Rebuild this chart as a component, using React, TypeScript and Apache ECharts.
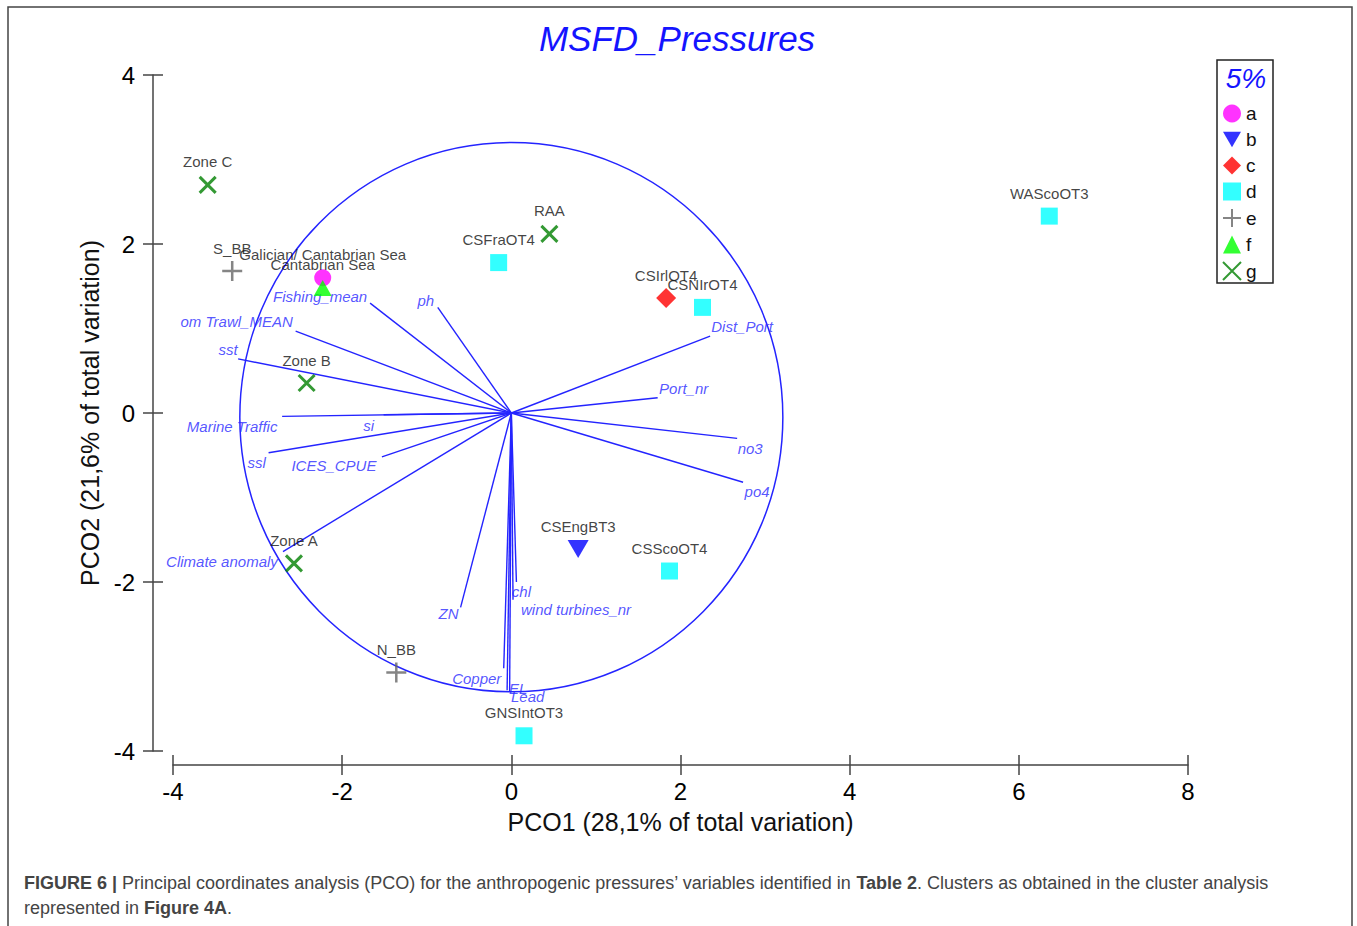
import { useEffect, useRef } from "react";
import * as echarts from "echarts";

// ---------- DATA ----------
const groupNames = ["a", "b", "c", "d", "e", "f", "g"];

// samples: [label, PCO1, PCO2]
const samplesA: [string, number, number][] = [["Galician/ Cantabrian Sea", -2.23, 1.6]];
const samplesB: [string, number, number][] = [["CSEngBT3", 0.79, -1.61]];
const samplesC: [string, number, number][] = [["CSIrlOT4", 1.83, 1.36]];
const samplesD: [string, number, number][] = [
  ["CSFraOT4", -0.15, 1.78],
  ["CSNIrOT4", 2.26, 1.25],
  ["CSScoOT4", 1.87, -1.87],
  ["WAScoOT3", 6.36, 2.33],
  ["GNSIntOT3", 0.15, -3.82],
];
const samplesE: [string, number, number][] = [
  ["S_BB", -3.3, 1.68],
  ["N_BB", -1.36, -3.07],
];
const samplesF: [string, number, number][] = [["Cantabrian Sea", -2.23, 1.48]];
const samplesG: [string, number, number][] = [
  ["Zone C", -3.59, 2.7],
  ["RAA", 0.45, 2.12],
  ["Zone B", -2.42, 0.355],
  ["Zone A", -2.57, -1.78],
];

// vectors (variable correlations)
const vectorNames = [
  "Fishing_mean", "ph", "om Trawl_MEAN", "sst", "Marine Traffic", "si", "ssl",
  "ICES_CPUE", "Climate anomaly", "ZN", "Copper", "EL", "Lead", "chl",
  "wind turbines_nr", "Dist_Port", "Port_nr", "no3", "po4",
];
const vectorX = [-1.67, -0.87, -2.55, -3.23, -2.71, -1.51, -2.87, -1.53, -2.7, -0.6, -0.09, -0.05, -0.02, 0.06, 0.02, 2.35, 1.73, 2.67, 2.74];
const vectorY = [1.3, 1.25, 0.97, 0.64, -0.04, -0.02, -0.47, -0.52, -1.64, -2.3, -3.02, -3.28, -3.3, -2.0, -2.21, 0.91, 0.18, -0.3, -0.82];

// correlation circle: centre x, centre y, radius x, radius y
const circle = [0, -0.05, 3.21, 3.25];

// ---------- STYLE ----------
const FONT = "'Liberation Sans', Arial, sans-serif";
const BLUE = "#2424ff";
// label offsets (pixels) for the vector labels, same order as vectorNames
const vectorLabelOffsets: [number, number][] = [
  [-50, -7], [-12, -7], [-59, -10], [-10, -9], [-50, 10], [-15, 11], [-12, 10],
  [-48, 9], [-61, 10], [-12, 6], [-27, 10], [11, -2], [18, 5], [5, 9],
  [63, 10], [32, -10], [26, -9], [13, 10], [14, 9],
];

const groupStyles: Record<string, any> = {
  a: { symbol: "circle", symbolSize: 17, itemStyle: { color: "#ff00ff" } },
  b: { symbol: "path://M0,0L21,0L10.5,18Z", symbolSize: [21, 18], itemStyle: { color: "#0000ff" } },
  c: { symbol: "diamond", symbolSize: 20, itemStyle: { color: "#ff0000" } },
  d: { symbol: "rect", symbolSize: 17, itemStyle: { color: "#00ffff" } },
  e: {
    symbol: "path://M0,10L20,10M10,0L10,20",
    symbolSize: 20,
    itemStyle: { color: "rgba(0,0,0,0)", borderColor: "#666666", borderWidth: 2.5 },
  },
  f: { symbol: "triangle", symbolSize: [18, 16], itemStyle: { color: "#00ff00" } },
  g: {
    symbol: "path://M0,0L20,20M20,0L0,20",
    symbolSize: 16,
    itemStyle: { color: "rgba(0,0,0,0)", borderColor: "#008000", borderWidth: 3 },
  },
};

const groupData: Record<string, [string, number, number][]> = {
  a: samplesA, b: samplesB, c: samplesC, d: samplesD, e: samplesE, f: samplesF, g: samplesG,
};

export default function App() {
  const ref = useRef<HTMLDivElement>(null);
  useEffect(() => {
    if (!ref.current) return;
    const chart = echarts.init(ref.current, null, { renderer: "svg" });

    const axisLineStyle = { color: "#444", width: 1.5 };
    const xBase = {
      type: "value", min: -4, max: 8, interval: 2, position: "bottom", offset: 14,
      splitLine: { show: false },
    };
    const yBase = {
      type: "value", min: -4, max: 4, interval: 2, position: "left", offset: 20,
      splitLine: { show: false },
    };

    const sampleSeries = groupNames.map((g) => ({
      type: "scatter",
      name: g,
      xAxisIndex: 0,
      yAxisIndex: 0,
      z: 5,
      ...groupStyles[g],
      data: groupData[g].map(([n, x, y]) => ({ name: n, value: [x, y] })),
      label: {
        show: true,
        formatter: "{b}",
        position: "inside",
        offset: [0, -23],
        color: "#111",
        fontSize: 15,
        fontFamily: FONT,
      },
      emphasis: { disabled: true },
    }));

    const boldRich = { b: { fontWeight: "bold", fontSize: 18, fontFamily: FONT, color: "#222" } };

    const option: any = {
      animation: false,
      backgroundColor: "#ffffff",
      grid: { left: 173, top: 75, width: 1015, height: 676 },
      xAxis: [
        {
          ...xBase,
          axisLine: { show: true, onZero: false, lineStyle: axisLineStyle },
          axisTick: { show: true, inside: false, length: 10, lineStyle: axisLineStyle },
          axisLabel: { fontSize: 24, color: "#000", margin: 14, fontFamily: FONT },
          name: "PCO1 (28,1% of total variation)",
          nameLocation: "middle",
          nameGap: 44,
          nameTextStyle: { fontSize: 25, color: "#111", fontFamily: FONT },
        },
        {
          ...xBase,
          axisLine: { show: false, onZero: false },
          axisTick: { show: true, inside: true, length: 10, lineStyle: axisLineStyle },
          axisLabel: { show: false },
        },
      ],
      yAxis: [
        {
          ...yBase,
          axisLine: { show: true, onZero: false, lineStyle: axisLineStyle },
          axisTick: { show: true, inside: false, length: 10, lineStyle: axisLineStyle },
          axisLabel: { fontSize: 24, color: "#000", margin: 18, fontFamily: FONT },
          name: "PCO2 (21,6% of total variation)",
          nameLocation: "middle",
          nameGap: 42,
          nameRotate: 90,
          nameTextStyle: { fontSize: 25, color: "#111", fontFamily: FONT },
        },
        {
          ...yBase,
          axisLine: { show: false, onZero: false },
          axisTick: { show: true, inside: true, length: 10, lineStyle: axisLineStyle },
          axisLabel: { show: false },
        },
      ],
      legend: {
        data: groupNames,
        orient: "vertical",
        left: 1222,
        top: 104,
        itemWidth: 18,
        itemHeight: 18,
        itemGap: 7,
        padding: 0,
        textStyle: { fontSize: 19, color: "#111", fontFamily: FONT },
        selectedMode: false,
      },
      graphic: [
        {
          type: "rect",
          shape: { x: 8, y: 7, width: 1344, height: 960 },
          style: { fill: "none", stroke: "#444", lineWidth: 1.5 },
          silent: true,
        },
        {
          type: "text",
          x: 677,
          y: 38,
          style: {
            text: "MSFD_Pressures",
            fill: "#1414ff",
            font: `italic 35px ${FONT}`,
            align: "center",
            verticalAlign: "middle",
          },
        },
        {
          type: "rect",
          shape: { x: 1217, y: 60, width: 56, height: 223 },
          style: { fill: "none", stroke: "#222", lineWidth: 1.5 },
          silent: true,
        },
        {
          type: "text",
          x: 1246,
          y: 78,
          style: {
            text: "5%",
            fill: "#1414ff",
            font: `italic 28px ${FONT}`,
            align: "center",
            verticalAlign: "middle",
          },
        },
        {
          type: "text",
          x: 24,
          y: 883,
          style: {
            text: "{b|FIGURE 6 |} Principal coordinates analysis (PCO) for the anthropogenic pressures’ variables identified in {b|Table 2}. Clusters as obtained in the cluster analysis",
            fill: "#444",
            fontSize: 18,
            fontFamily: FONT,
            verticalAlign: "middle",
            rich: boldRich,
          },
        },
        {
          type: "text",
          x: 24,
          y: 908,
          style: {
            text: "represented in {b|Figure 4A}.",
            fill: "#444",
            fontSize: 18,
            fontFamily: FONT,
            verticalAlign: "middle",
            rich: boldRich,
          },
        },
      ],
      series: [
        {
          type: "custom",
          name: "circle",
          xAxisIndex: 0,
          yAxisIndex: 0,
          silent: true,
          z: 2,
          data: [circle],
          renderItem: (params: any, api: any) => {
            const c = api.coord([api.value(0), api.value(1)]);
            const s = api.size([api.value(2), api.value(3)]);
            return {
              type: "ellipse",
              shape: { cx: c[0], cy: c[1], rx: s[0], ry: s[1] },
              style: { fill: "none", stroke: BLUE, lineWidth: 1.5 },
            };
          },
        },
        {
          type: "lines",
          name: "vectors",
          coordinateSystem: "cartesian2d",
          xAxisIndex: 0,
          yAxisIndex: 0,
          silent: true,
          z: 3,
          lineStyle: { color: BLUE, width: 1.4, opacity: 1 },
          symbol: ["none", "none"],
          data: vectorNames.map((n, i) => ({ coords: [[0, 0], [vectorX[i], vectorY[i]]] })),
        },
        {
          type: "scatter",
          name: "vectorLabels",
          xAxisIndex: 0,
          yAxisIndex: 0,
          silent: true,
          z: 4,
          symbolSize: 0.1,
          itemStyle: { color: "rgba(0,0,0,0)" },
          data: vectorNames.map((n, i) => ({
            name: n,
            value: [vectorX[i], vectorY[i]],
            label: { offset: vectorLabelOffsets[i] },
          })),
          label: {
            show: true,
            formatter: "{b}",
            position: "inside",
            color: "#2a2aff",
            fontSize: 15,
            fontStyle: "italic",
            fontFamily: FONT,
          },
        },
        ...sampleSeries,
      ],
    };
    chart.setOption(option);
    return () => chart.dispose();
  }, []);
  return (
    <div
      ref={ref}
      style={{ position: "absolute", left: 0, top: 0, width: 1357, height: 926, background: "#fff" }}
    />
  );
}
